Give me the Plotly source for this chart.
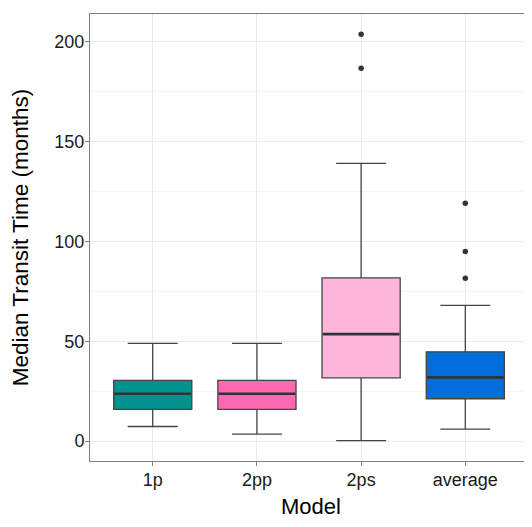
import plotly.graph_objects as go

models = ["1p", "2pp", "2ps", "average"]
lower_whisker = [7.3, 3.5, 0.2, 6.0]
q1 = [15.9, 15.9, 31.7, 21.2]
median = [23.7, 23.7, 53.6, 31.9]
q3 = [30.4, 30.4, 81.8, 44.7]
upper_whisker = [48.9, 48.9, 139.1, 68.0]
outliers = [[], [], [186.8, 203.8], [81.6, 95.0, 119.2]]
colors = ["#00928D", "#FF69B4", "#FDB5DA", "#006DDB"]

y_ticks = [0, 50, 100, 150, 200]

BOX_W = 0.75
fig = go.Figure()
for i, m in enumerate(models):
    fig.add_trace(go.Box(
        x=[i], q1=[q1[i]], median=[median[i]], q3=[q3[i]],
        lowerfence=[lower_whisker[i]], upperfence=[upper_whisker[i]],
        name=m, width=BOX_W, whiskerwidth=0.64,
        fillcolor=colors[i], line=dict(color="#444444", width=1.3),
        boxpoints=False, showlegend=False, hoverinfo="skip",
    ))
    fig.add_trace(go.Scatter(
        x=[i - BOX_W / 2 + 0.01, i + BOX_W / 2 - 0.01], y=[median[i], median[i]],
        mode="lines", line=dict(color="#333333", width=2.6),
        showlegend=False, hoverinfo="skip",
    ))
    if outliers[i]:
        fig.add_trace(go.Scatter(
            x=[i] * len(outliers[i]), y=outliers[i], mode="markers",
            marker=dict(color="#333333", size=5.5),
            showlegend=False, hoverinfo="skip",
        ))

font = "Liberation Sans, Arial, sans-serif"
fig.update_layout(
    width=524, height=511,
    margin=dict(l=82, r=0, t=6, b=58),
    paper_bgcolor="white", plot_bgcolor="white",
    boxmode="overlay",
    font=dict(family=font, color="#1a1a1a"),
    xaxis=dict(
        range=[-0.602, 3.64], tickvals=list(range(len(models))), ticktext=models,
        showgrid=True, gridcolor="#EBEBEB", gridwidth=1,
        showline=True, linecolor="#7f7f7f", linewidth=1, mirror=True,
        ticks="outside", ticklen=4, tickcolor="#7f7f7f", ticklabelstandoff=-2,
        tickfont=dict(size=18, color="#1a1a1a"), zeroline=False,
        title=dict(text="Model", font=dict(size=22, color="#000000"), standoff=14),
    ),
    yaxis=dict(
        range=[-10, 214], tickvals=y_ticks,
        showgrid=True, gridcolor="#EBEBEB", gridwidth=1,
        minor=dict(tickvals=[25, 75, 125, 175], showgrid=True, gridcolor="#F5F5F5", gridwidth=1),
        showline=True, linecolor="#7f7f7f", linewidth=1, mirror=False,
        ticks="outside", ticklen=4, tickcolor="#7f7f7f", ticklabelstandoff=-3,
        tickfont=dict(size=18, color="#1a1a1a"), zeroline=False,
        title=dict(text="Median Transit Time (months)", font=dict(size=22.5, color="#000000"), standoff=19),
    ),
)

fig.write_html("out.html")
